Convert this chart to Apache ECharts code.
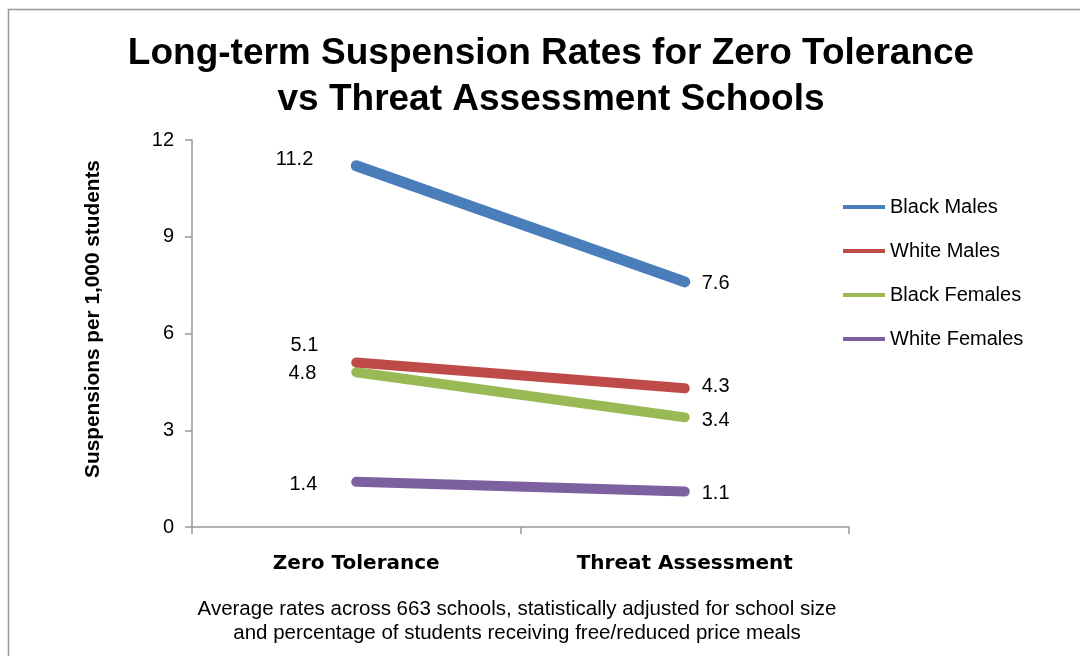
<!DOCTYPE html>
<html>
<head>
<meta charset="utf-8">
<script src="https://cdn.jsdelivr.net/npm/echarts@6/dist/echarts.min.js"></script>
<style>
html,body{margin:0;padding:0;background:#fff;}
#chart{width:1080px;height:656px;}
</style>
</head>
<body>
<div id="chart"></div>
<script>
var categories = ['Zero Tolerance', 'Threat Assessment'];
var seriesNames = ['Black Males', 'White Males', 'Black Females', 'White Females'];
var blackMales = [11.2, 7.6];
var whiteMales = [5.1, 4.3];
var blackFemales = [4.8, 3.4];
var whiteFemales = [1.4, 1.1];
var yTicks = [0, 3, 6, 9, 12];
var titleText = 'Long-term Suspension Rates for Zero Tolerance\nvs Threat Assessment Schools';
var yAxisName = 'Suspensions per 1,000 students';
var noteText = 'Average rates across 663 schools, statistically adjusted for school size\nand percentage of students receiving free/reduced price meals';

var colors = ['#4A7EBB', '#BE4B48', '#98B954', '#7D60A0'];
var values = [blackMales, whiteMales, blackFemales, whiteFemales];
var widths = [11, 10, 10, 10];
// label offsets [left point, right point] (visual nudges)
var labelOffsets = [[[-2, -6], [0, 2]], [[3, -17], [0, -2]], [[1, 1], [0, 3]], [[2, 3], [0, 2]]];

var FONT = '"Liberation Sans", Arial, sans-serif';

var series = seriesNames.map(function (name, i) {
  return {
    name: name,
    type: 'line',
    data: values[i].map(function (v, j) {
      return {
        value: v,
        label: {
          show: true,
          position: j === 0 ? 'left' : 'right',
          distance: j === 0 ? 40 : 16,
          offset: labelOffsets[i][j]
        }
      };
    }),
    symbol: 'circle',
    symbolSize: 2,
    showSymbol: true,
    lineStyle: { color: colors[i], width: widths[i], cap: 'round' },
    itemStyle: { color: colors[i] },
    label: {
      show: true,
      color: '#000',
      fontSize: 20,
      fontFamily: FONT,
      formatter: function (p) { return p.value.toFixed(1); }
    },
    emphasis: { disabled: true },
    z: 10 - i
  };
});

var chart = echarts.init(document.getElementById('chart'));
chart.setOption({
  animation: false,
  backgroundColor: '#fff',
  color: colors,
  title: {
    text: titleText,
    left: 546,
    textAlign: 'center',
    top: 26,
    textStyle: {
      fontFamily: FONT,
      fontSize: 37,
      fontWeight: 'bold',
      color: '#000',
      lineHeight: 46
    }
  },
  legend: {
    orient: 'vertical',
    left: 838,
    top: 192,
    itemGap: 24,
    itemWidth: 42,
    itemHeight: 24,
    icon: 'path://M0,0 L42,0 L42,4 L0,4 Z',
    data: seriesNames.map(function (n, i) {
      return { name: n, itemStyle: { color: colors[i] } };
    }),
    textStyle: { fontFamily: FONT, fontSize: 20, color: '#000' }
  },
  grid: { left: 192, top: 140, right: 231, bottom: 129, containLabel: false },
  xAxis: {
    type: 'category',
    data: categories,
    boundaryGap: true,
    axisLine: { lineStyle: { color: '#999', width: 1.5 } },
    axisTick: { show: true, length: 7, lineStyle: { color: '#999', width: 1.5 } },
    axisLabel: {
      fontFamily: '"DejaVu Sans", sans-serif',
      fontWeight: 'bold',
      fontSize: 20,
      color: '#000',
      margin: 27
    }
  },
  yAxis: {
    type: 'value',
    min: yTicks[0],
    max: yTicks[yTicks.length - 1],
    interval: 3,
    axisLine: { show: true, lineStyle: { color: '#999', width: 1.5 } },
    axisTick: { show: true, length: 7, lineStyle: { color: '#999', width: 1.5 } },
    splitLine: { show: false },
    axisLabel: { fontFamily: FONT, fontSize: 20, color: '#000', margin: 18 }
  },
  graphic: [
    {
      type: 'rect',
      shape: { x: 8.5, y: 9.5, width: 1200, height: 800 },
      style: { fill: 'none', stroke: '#999', lineWidth: 1.5 },
      silent: true
    },
    {
      type: 'text',
      x: 93,
      y: 319,
      rotation: Math.PI / 2,
      style: {
        text: yAxisName,
        textAlign: 'center',
        textVerticalAlign: 'middle',
        fontFamily: FONT,
        fontSize: 20.8,
        fontWeight: 'bold',
        fill: '#000'
      }
    },
    {
      type: 'text',
      x: 517,
      y: 597,
      style: {
        text: noteText,
        textAlign: 'center',
        fontFamily: FONT,
        fontSize: 20.5,
        lineHeight: 24,
        fill: '#000'
      }
    }
  ],
  series: series
});
</script>
</body>
</html>
